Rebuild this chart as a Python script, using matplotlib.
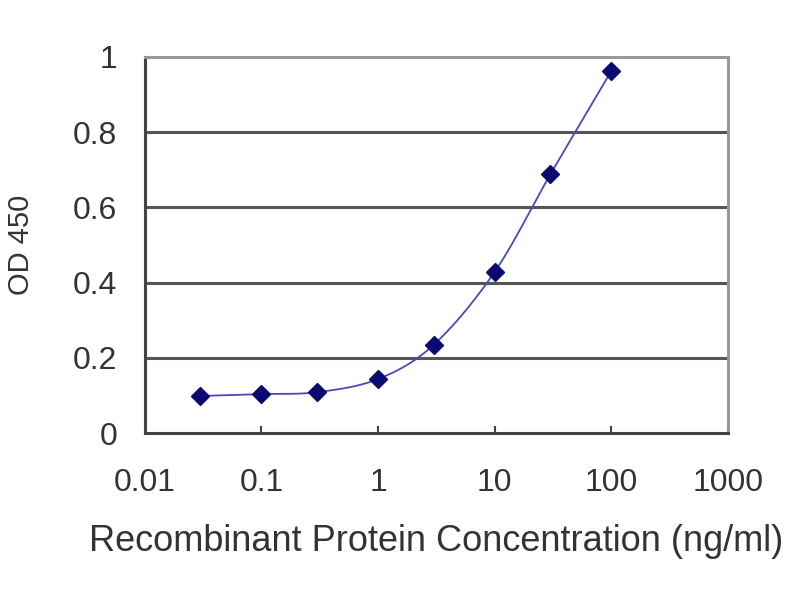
import matplotlib

matplotlib.use("Agg")
import numpy as np
import matplotlib.pyplot as plt

plt.rcParams["font.family"] = ["Liberation Sans", "DejaVu Sans"]

# ELISA standard curve
conc = [0.03, 0.1, 0.3, 1, 3, 10, 30, 100]
od450 = [0.099, 0.104, 0.109, 0.144, 0.235, 0.429, 0.688, 0.963]
xticks = [0.01, 0.1, 1, 10, 100, 1000]
xtick_labels = ["0.01", "0.1", "1", "10", "100", "1000"]
yticks = [0, 0.2, 0.4, 0.6, 0.8, 1]
ytick_labels = ["0", "0.2", "0.4", "0.6", "0.8", "1"]

fig = plt.figure(figsize=(8, 6), dpi=100)
ax = fig.add_axes([0.181, 0.278, 0.729, 0.627])
ax.set_xscale("log")
ax.set_xlim(0.01, 1000)
ax.set_ylim(0, 1)

# smoothed line (Catmull-Rom as cubic Bezier) in log-x space
lx = np.log10(conc)
y = np.array(od450)
n = len(lx)
ts = np.linspace(0, 1, 30)
curve_x, curve_y = [], []
for i in range(n - 1):
    p0 = np.array([lx[max(i - 1, 0)], y[max(i - 1, 0)]])
    p1 = np.array([lx[i], y[i]])
    p2 = np.array([lx[i + 1], y[i + 1]])
    p3 = np.array([lx[min(i + 2, n - 1)], y[min(i + 2, n - 1)]])
    c1 = p1 + (p2 - p0) / 6
    c2 = p2 - (p3 - p1) / 6
    for t in ts:
        pt = (1 - t) ** 3 * p1 + 3 * (1 - t) ** 2 * t * c1 + 3 * (1 - t) * t * t * c2 + t ** 3 * p2
        curve_x.append(10 ** pt[0])
        curve_y.append(pt[1])
ax.plot(curve_x, curve_y, color="#4a4ab8", lw=1.3, zorder=3)
ax.plot(conc, od450, linestyle="none", marker="D", color="#0a0a70",
        markersize=9, zorder=4)

for g in yticks[1:-1]:
    ax.axhline(g, color="#555555", lw=2.2, zorder=1)

for s in ["top", "right"]:
    ax.spines[s].set_color("#999999")
    ax.spines[s].set_linewidth(2.2)
for s in ["left", "bottom"]:
    ax.spines[s].set_color("#444444")
    ax.spines[s].set_linewidth(2.2)

ax.set_xticks(xticks)
ax.set_xticklabels(xtick_labels)
ax.xaxis.set_minor_locator(matplotlib.ticker.NullLocator())
ax.set_yticks(yticks)
ax.set_yticklabels(ytick_labels)
ax.tick_params(axis="x", direction="in", length=5, width=1.5, color="#444444",
               labelsize=23, labelcolor="#333333", pad=25)
ax.tick_params(axis="y", length=0, labelsize=23, labelcolor="#333333", pad=20)

ax.set_xlabel("Recombinant Protein Concentration (ng/ml)", fontsize=26,
              color="#333333", labelpad=19)
ax.set_ylabel("OD 450", fontsize=21, color="#333333", labelpad=27)

fig.savefig("out.png", dpi=100)
